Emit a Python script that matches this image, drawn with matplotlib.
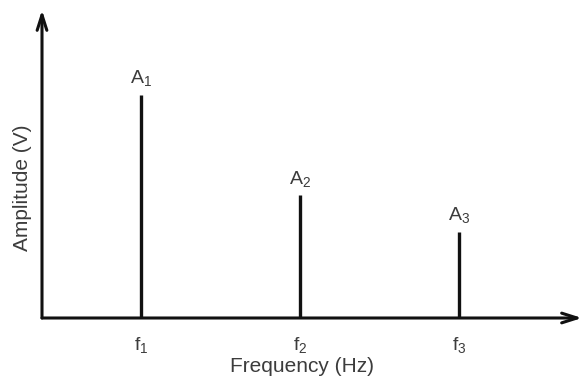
import matplotlib
matplotlib.use("Agg")
import matplotlib.pyplot as plt

# Data
frequencies = [1, 2, 3]
amplitudes = [1.0, 0.55, 0.385]
amp_labels = ["A_1", "A_2", "A_3"]
freq_labels = ["f_1", "f_2", "f_3"]
x_label = "Frequency (Hz)"
y_label = "Amplitude (V)"

plt.rcParams['font.family'] = ['Liberation Sans', 'DejaVu Sans']
plt.rcParams['mathtext.fontset'] = 'custom'
plt.rcParams['mathtext.rm'] = 'Liberation Sans'
plt.rcParams['mathtext.it'] = 'Liberation Sans'

txt_color = "#3c3c3c"
fig = plt.figure(figsize=(5.84, 3.78), dpi=100)
ax = fig.add_axes([42/584, 60/378, 540/584, 308/378])
ax.set_xlim(0.377, 3.77)
ax.set_ylim(0, 1.38)

for s in ax.spines.values():
    s.set_visible(False)

# axes arrows
aprops = dict(arrowstyle="->,head_length=1.1,head_width=0.35", color="#111111", lw=2.2, shrinkA=0, shrinkB=0)
ax.annotate("", xy=(0, 1.0), xytext=(0, 0), xycoords="axes fraction", textcoords="axes fraction", arrowprops=aprops)
ax.annotate("", xy=(1.0, 0), xytext=(0, 0), xycoords="axes fraction", textcoords="axes fraction", arrowprops=aprops)

ax.vlines(frequencies, 0, amplitudes, color="#111111", lw=2.4)
for f, a, lab in zip(frequencies, amplitudes, amp_labels):
    ax.text(f, a + 0.03, r"$\mathregular{%s}$" % lab, ha="center", va="bottom", fontsize=14, color=txt_color)

ax.set_xticks(frequencies)
ax.set_xticklabels([r"$\mathregular{%s}$" % l for l in freq_labels], fontsize=14, color=txt_color)
ax.tick_params(axis="x", length=0, pad=12)
ax.set_yticks([])
ax.set_xlabel(x_label, fontsize=15, color=txt_color)
ax.set_ylabel(y_label, fontsize=15, color=txt_color)
ax.xaxis.set_label_coords((302 - 42) / 540, -(366 - 318) / 308)
ax.yaxis.set_label_coords(-(42 - 23) / 540, (318 - 188) / 308)
ax.xaxis.label.set_va("center")
ax.yaxis.label.set_va("center")

fig.savefig("out.png", dpi=100)
